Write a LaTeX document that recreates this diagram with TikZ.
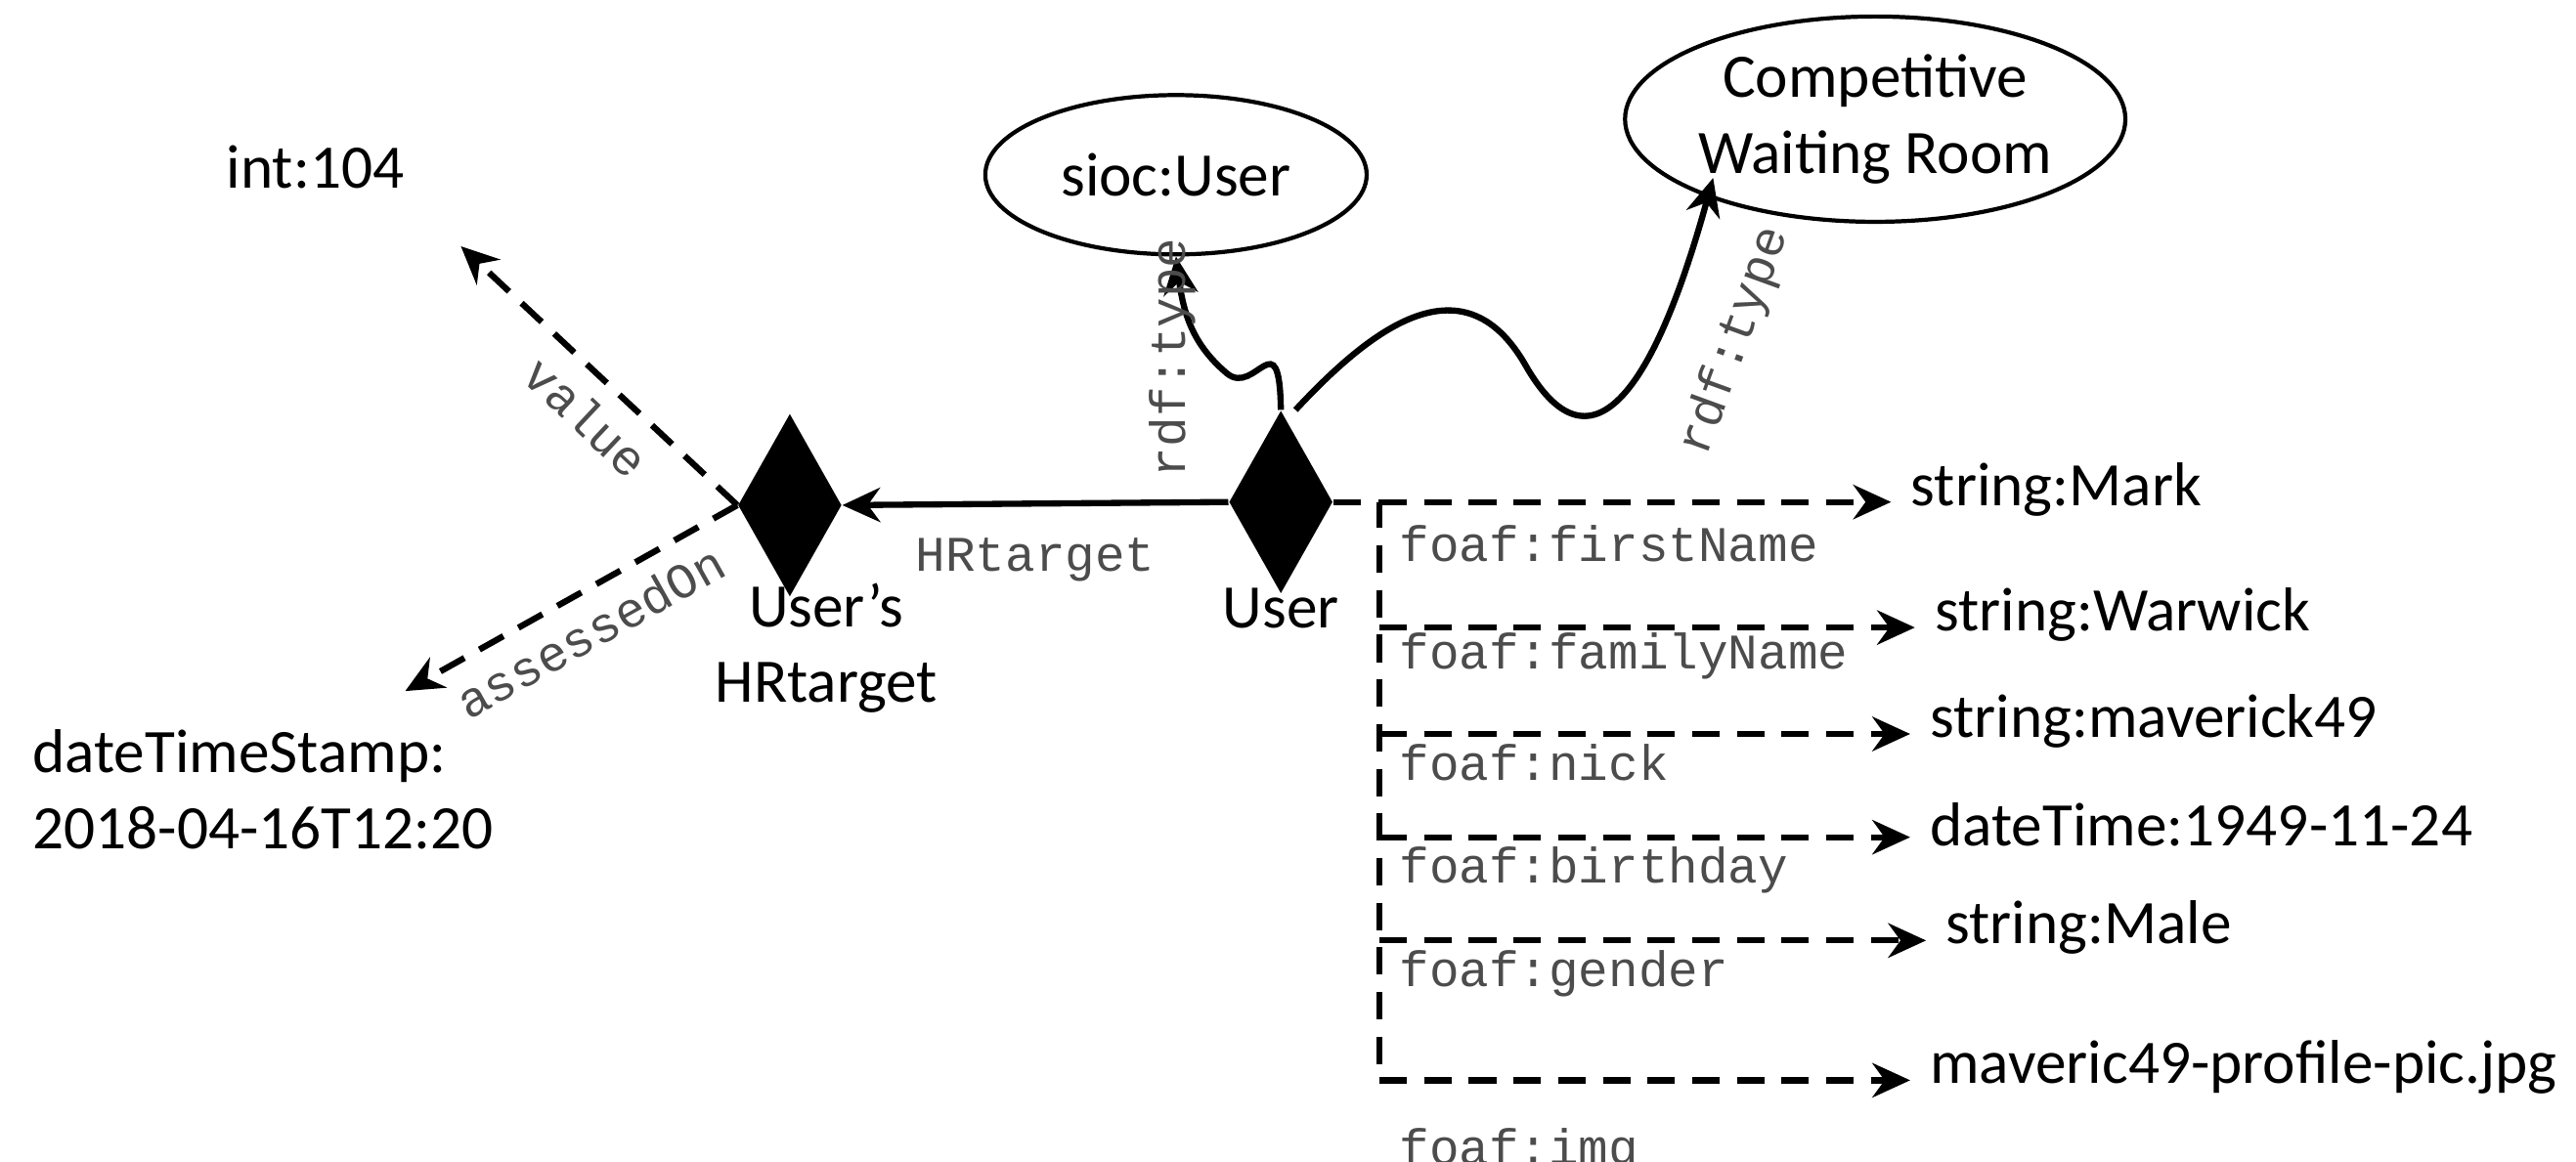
\documentclass[tikz,border=0pt]{standalone}
\usepackage{fontspec}
\setmainfont{Carlito}
\newfontfamily\mono{Liberation Mono}
\usetikzlibrary{shapes.geometric,arrows.meta}
\begin{document}
\begin{tikzpicture}[x=0.01625cm,y=-0.01625cm,
  txt/.style={font=\fontsize{18}{22}\selectfont, inner sep=1pt},
  lbl/.style={font=\mono\fontsize{14.5}{17}\selectfont, text=black!70, inner sep=1pt},
  dia/.style={diamond, fill=black, minimum width=1.06cm, minimum height=1.87cm, inner sep=0, aspect=0.56},
  ell/.style={ellipse, draw, line width=1.2pt, font=\fontsize{18}{22}\selectfont, align=center, inner sep=0},
  arr/.style={line width=1.8pt, -{Stealth[length=11pt,width=10pt]}},
  darr/.style={arr, dash pattern=on 8pt off 5pt}]
\useasboundingbox (0,0) rectangle (1621,731);
\node[dia] (hr) at (497,318) {};
\node[dia] (u) at (806,316) {};
\node[txt, align=center] at (520,408) {User's\\HRtarget};
\node[txt] at (806,383) {User};
\node[ell, minimum width=3.9cm, minimum height=1.63cm] (sioc) at (740,110) {sioc:User};
\node[ell, minimum width=4.9cm, minimum height=2.1cm] (cwr) at (1180,75) {Competitive\\Waiting Room};
\node[txt, anchor=west] (int) at (140,105) {int:104};
\node[txt, anchor=west, align=left] (dts) at (18,497) {dateTimeStamp:\\2018-04-16T12:20};
\coordinate (dtsa) at (255,435);
\coordinate (inta) at (290,155);
% HRtarget
\draw[arr] (u.west) -- (hr.east) node[lbl, midway, below=8pt] {HRtarget};
\draw[darr] (hr.west) -- (inta) node[lbl, pos=0.45, sloped, below=4pt] {value};
\draw[darr] (hr.west) -- (dtsa) node[lbl, pos=0.5, sloped, below=4pt] {assessedOn};
% rdf:type
\draw[arr] (u.north) .. controls (805,200) and (790,250) .. (772,235) .. controls (752,218) and (745,200) .. (sioc.south);
\node[lbl, rotate=90] at (738,225) {rdf:type};
\draw[arr] ([xshift=0.15cm]u.north) .. controls (860,210) and (920,160) .. (960,230) .. controls (1000,300) and (1040,250) .. (1078,112);
\node[lbl, rotate=70] at (1092,215) {rdf:type};
% tree
\coordinate (t0) at (868,316);
\coordinate (tb) at (868,680);
\draw[line width=1.8pt, dash pattern=on 8pt off 5pt] (u.east) -- (t0) -- (tb);
\foreach \y/\txt/\lab/\ly/\tx [count=\i] in {316/string:Mark/foaf:firstName/342/1200, 395/string:Warwick/foaf:familyName/413/1215, 462/string:maverick49/foaf:nick/480/1212, 527/dateTime:1949-11-24/foaf:birthday/548/1212, 592/string:Male/foaf:gender/613/1222, 680/maveric49-profile-pic.jpg/foaf:img/725/1212}{
  \node[txt, anchor=west] (v\i) at (\tx,\y-8) {\txt};
  \coordinate (b\i) at (868,\y);
  \draw[darr] (b\i) -- (\tx-10,\y);
  \node[lbl, anchor=west] at (878,\ly) {\lab};
}
\end{tikzpicture}
\end{document}
